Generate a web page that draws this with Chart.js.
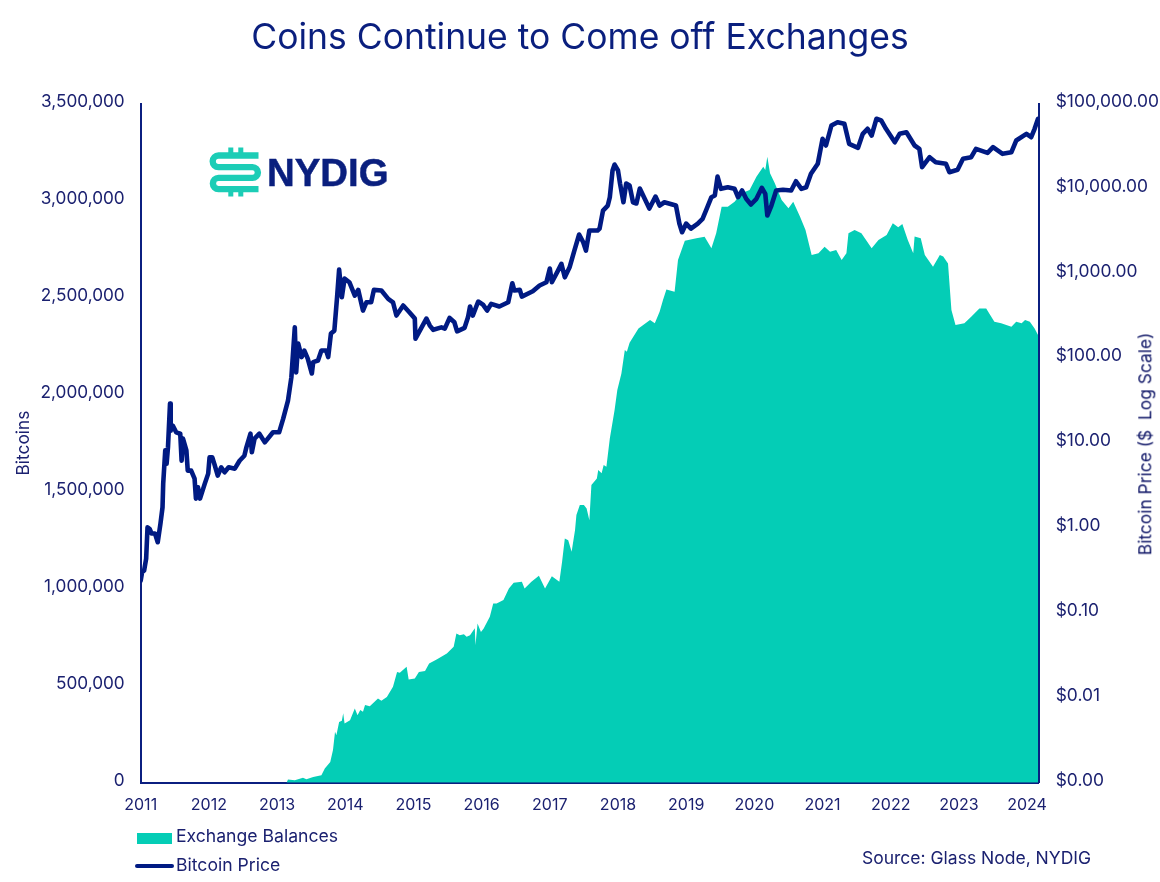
<!DOCTYPE html>
<html><head><meta charset="utf-8">
<script src="https://cdn.jsdelivr.net/npm/chart.js@4"></script>
<style>
html,body{margin:0;padding:0;background:#fff;width:1160px;height:882px;overflow:hidden}
#wrap{position:relative;width:1160px;height:882px;font-family:Inter,sans-serif;color:#1b2170}
canvas{position:absolute;left:0;top:0}
.t{position:absolute;white-space:nowrap;line-height:1}
</style></head><body>
<div id="wrap">
<canvas id="c" width="1160" height="882"></canvas>
<svg style="position:absolute;left:0;top:0" width="400" height="220" fill="none">
  <path d="M258.5 155.5H218.5a5.8 5.8 0 0 0 0 11.6H252.5a5.4 5.4 0 0 1 0 10.8H218.5a5.6 5.6 0 0 0 0 11.2H258.5" stroke="#1ccdb6" stroke-width="6.4"/>
  <path d="M228.3 147.5h5v6h-5zM238.3 147.5h5v6h-5zM228.3 191.5h5v5h-5zM238.3 191.5h5v5h-5z" fill="#1ccdb6"/>
</svg>
<div class="t" style="left:267px;top:153.5px;font-size:38.4px;font-weight:700;color:#0a1f7e;font-family:'Liberation Sans',Arial,sans-serif;-webkit-text-stroke:.5px #0a1f7e">NYDIG</div>
<div class="t" style="left:137px;top:832.5px;width:35px;height:11px;background:#04cdb6"></div>
<div class="t" style="left:135px;top:864px;width:39px;height:4px;border-radius:2px;background:#001a83"></div>
<div class="t" style="left:176px;top:827px;font-size:17.6px">Exchange Balances</div>
<div class="t" style="left:176px;top:856px;font-size:17.6px">Bitcoin Price</div>
<div class="t" style="left:862px;top:849px;font-size:17.5px">Source: Glass Node, NYDIG</div>
<div class="t" style="left:1145px;top:444px;font-size:17.4px;color:#111868;transform:translate(-50%,-50%) rotate(-90deg)">Bitcoin Price ($&nbsp; Log Scale)</div>
</div>
<script>
const yearTicks = [2011,2012,2013,2014,2015,2016,2017,2018,2019,2020,2021,2022,2023,2024];
const balanceTicks = [0,500000,1000000,1500000,2000000,2500000,3000000,3500000];
const priceTicks = [0.001,0.01,0.1,1,10,100,1000,10000,100000];

const priceYears = [2011.00,2011.02,2011.05,2011.08,2011.10,2011.13,2011.16,2011.21,2011.25,2011.29,2011.32,2011.33,2011.36,2011.38,2011.40,2011.43,2011.44,2011.47,2011.52,2011.58,2011.60,2011.62,2011.67,2011.69,2011.74,2011.79,2011.81,2011.84,2011.87,2011.94,2011.99,
2012.01,2012.05,2012.08,2012.13,2012.18,2012.23,2012.29,2012.38,2012.45,2012.52,2012.55,2012.61,2012.63,2012.67,2012.74,2012.82,2012.94,
2013.03,2013.09,2013.16,2013.21,2013.26,2013.28,2013.31,2013.36,2013.40,2013.45,2013.51,2013.53,2013.60,2013.65,2013.72,2013.75,2013.79,2013.84,2013.88,2013.91,2013.95,2013.99,
2014.06,2014.14,2014.19,2014.26,2014.31,2014.38,2014.42,2014.53,2014.63,2014.70,2014.75,2014.85,2014.94,
2015.02,2015.03,2015.12,2015.19,2015.24,2015.29,2015.41,2015.46,2015.53,2015.60,2015.64,2015.75,2015.80,2015.83,2015.87,2015.95,
2016.02,2016.08,2016.14,2016.26,2016.39,2016.45,2016.48,2016.56,2016.59,2016.75,2016.85,2016.95,
2017.00,2017.03,2017.12,2017.17,2017.22,2017.29,2017.36,2017.43,2017.49,2017.53,2017.58,2017.70,2017.73,2017.78,2017.85,2017.88,2017.92,2017.95,
2018.00,2018.03,2018.08,2018.12,2018.17,2018.22,2018.27,2018.32,2018.39,2018.46,2018.55,2018.61,2018.68,2018.85,2018.90,2018.94,
2019.00,2019.07,2019.17,2019.24,2019.29,2019.37,2019.42,2019.46,2019.51,2019.61,2019.71,2019.76,2019.82,2019.88,2019.95,
2020.03,2020.11,2020.16,2020.19,2020.25,2020.32,2020.42,2020.54,2020.61,2020.69,2020.76,2020.83,2020.93,
2021.00,2021.05,2021.13,2021.22,2021.32,2021.39,2021.52,2021.59,2021.66,2021.72,2021.79,2021.86,2021.93,
2022.06,2022.13,2022.23,2022.35,2022.42,2022.46,2022.57,2022.66,2022.81,2022.86,2022.98,
2023.06,2023.18,2023.25,2023.42,2023.50,2023.64,2023.77,2023.84,2023.99,
2024.06,2024.11,2024.16];
const priceValues = [0.24,0.30,0.315,0.435,1.02,0.98,0.86,0.86,0.68,1.13,1.75,3.33,8.2,5.7,8.9,29.2,14.0,16.1,13.4,12.9,6.2,11.3,8.2,4.74,4.74,3.82,2.22,3.01,2.22,3.33,4.37,
6.8,6.8,5.7,4.14,5.19,4.53,5.19,5.0,6.2,7.1,8.9,12.9,7.8,11.3,12.9,10.2,13.4,
13.4,19.4,31.7,59.6,231,68,149,103,123,99,66,90,94,123,123,103,195,211,522,1107,522,867,
785,547,638,364,456,456,638,627,500,456,318,417,348,
293,170,231,293,242,216,231,223,299,265,207,228,303,406,318,465,
428,364,437,406,456,764,627,638,532,614,718,785,
1138,785,1076,1291,897,1178,1854,2864,2323,1854,3192,3192,3365,5483,6281,7870,16250,19100,
16250,11400,6870,11400,10800,6870,6640,9970,7600,5790,8020,6281,6870,6281,3855,3048,
3855,3365,3855,4385,5483,7870,8240,13800,9885,10320,9885,7870,9440,7535,6460,
7535,10160,8630,4790,6281,9440,9620,9440,12150,9885,10320,14850,19500,
38370,32000,55080,60230,57660,33500,30060,43950,50350,41980,66070,63100,50350,
35000,43950,45900,32000,29250,17750,23300,20340,19500,15520,16560,
22300,23300,29250,26240,30550,25530,26670,36650,43950,
40080,50350,66070];

const balanceYears = [2011.00,2013.13,2013.14,2013.16,2013.26,2013.38,2013.43,2013.53,2013.65,2013.70,2013.78,2013.82,2013.85,2013.87,2013.91,2013.95,2013.97,2013.99,
2014.07,2014.14,2014.18,2014.22,2014.26,2014.29,2014.36,2014.48,2014.53,2014.61,2014.70,2014.76,2014.80,2014.90,2014.93,
2015.02,2015.08,2015.17,2015.23,2015.34,2015.49,2015.59,2015.63,2015.68,2015.74,2015.78,2015.83,2015.90,2015.91,2015.94,2015.99,
2016.03,2016.12,2016.17,2016.22,2016.32,2016.40,2016.47,2016.59,2016.63,2016.73,2016.84,2016.93,
2017.03,2017.14,2017.18,2017.22,2017.27,2017.32,2017.37,2017.39,2017.44,2017.50,2017.54,2017.58,2017.61,2017.69,2017.71,2017.76,2017.79,2017.83,2017.88,2017.95,2017.99,
2018.05,2018.10,2018.13,2018.17,2018.30,2018.37,2018.47,2018.54,2018.61,2018.66,2018.71,2018.83,2018.88,2018.98,
2019.15,2019.27,2019.37,2019.44,2019.52,2019.61,2019.71,2019.81,2019.93,
2020.03,2020.13,2020.16,2020.19,2020.23,2020.30,2020.40,2020.50,2020.57,2020.67,2020.75,2020.84,2020.94,
2021.03,2021.11,2021.20,2021.28,2021.35,2021.38,2021.47,2021.57,2021.62,2021.72,2021.82,2021.94,
2022.03,2022.11,2022.17,2022.25,2022.33,2022.35,2022.44,2022.50,2022.62,2022.72,2022.77,2022.84,2022.89,2022.95,
2023.08,2023.18,2023.30,2023.40,2023.52,2023.62,2023.77,2023.84,2023.92,2023.97,
2024.04,2024.11,2024.16];
const balanceValues = [0,0,0,16000,13000,25000,18000,30000,39000,73000,107000,168000,262000,245000,313000,319000,358000,305000,
322000,382000,348000,374000,365000,400000,394000,434000,422000,442000,494000,571000,566000,597000,532000,
537000,571000,576000,614000,635000,666000,700000,769000,760000,765000,752000,760000,796000,709000,821000,777000,
795000,855000,924000,924000,941000,1001000,1030000,1035000,1001000,1035000,1066000,1001000,
1064000,1035000,1138000,1259000,1250000,1190000,1302000,1379000,1431000,1431000,1413000,1353000,1534000,1568000,1611000,1594000,1637000,1628000,1774000,1920000,2023000,
2109000,2230000,2221000,2267000,2341000,2358000,2384000,2367000,2427000,2487000,2542000,2530000,2693000,2793000,
2805000,2813000,2754000,2831000,2968000,2968000,2994000,3037000,3054000,
3123000,3174000,3157000,3226000,3140000,3089000,3003000,2960000,2994000,2917000,2848000,2719000,2728000,
2762000,2736000,2745000,2693000,2728000,2831000,2848000,2831000,2805000,2754000,2796000,2822000,
2883000,2862000,2879000,2796000,2728000,2814000,2805000,2719000,2659000,2719000,2711000,2676000,2436000,2358000,
2367000,2401000,2444000,2444000,2375000,2367000,2350000,2375000,2367000,2384000,
2375000,2341000,2307000];

const textColor = '#1b2170', axisColor = '#0b1f80';
new Chart(document.getElementById('c'), {
  type:'line',
  data:{datasets:[
    {label:'Bitcoin Price', yAxisID:'price', order:0,
     data:priceYears.map((x,i)=>({x,y:priceValues[i]})),
     borderColor:'#001a83', borderWidth:4.6, borderJoinStyle:'round', borderCapStyle:'round', pointRadius:0, tension:0, fill:false},
    {label:'Exchange Balances', yAxisID:'balance', order:1,
     data:balanceYears.map((x,i)=>({x,y:balanceValues[i]})),
     borderWidth:0, borderColor:'#04cdb6', backgroundColor:'#04cdb6', pointRadius:0, tension:0, fill:'origin'}
  ]},
  options:{
    responsive:false, animation:false, devicePixelRatio:1,
    layout:{padding:0},
    plugins:{
      legend:{display:false}, tooltip:{enabled:false},
      title:{display:true,text:'Coins Continue to Come off Exchanges',color:'#0a1f7e',
        font:{family:'Inter',size:35.5,weight:'400',lineHeight:1.2},padding:{top:17,bottom:43.9}}
    },
    scales:{
      x:{type:'linear',min:2011,max:2024.17,
        grid:{display:false,drawTicks:false},
        border:{color:axisColor,width:2},
        ticks:{color:textColor,font:{family:'Inter',size:16},padding:13,maxRotation:0,autoSkip:false,callback:v=>String(v)},
        afterBuildTicks:s=>{s.ticks=yearTicks.map(value=>({value}))},
        afterFit:s=>{s.height=99.3}},
      balance:{type:'linear',position:'left',min:0,max:3500000,
        grid:{display:false,drawTicks:false},
        border:{color:axisColor,width:2},
        ticks:{color:textColor,font:{family:'Inter',size:17.2},padding:16,labelOffset:-2,callback:v=>v.toLocaleString('en-US')},
        afterBuildTicks:s=>{s.ticks=balanceTicks.map(value=>({value}))},
        title:{display:true,text:'Bitcoins',color:textColor,font:{family:'Inter',size:17.3},padding:{top:13,bottom:0}},
        afterFit:s=>{s.width=140.7}},
      price:{type:'logarithmic',position:'right',min:0.001,max:100000,
        grid:{display:false,drawTicks:false},
        border:{color:axisColor,width:2},
        ticks:{color:textColor,font:{family:'Inter',size:17.4},padding:17,labelOffset:-2,autoSkip:false,
          callback:v=>'$'+Number(v).toLocaleString('en-US',{minimumFractionDigits:2,maximumFractionDigits:2})},
        afterBuildTicks:s=>{s.ticks=priceTicks.map(value=>({value}))},
        afterFit:s=>{s.width=121.3}}
    }
  }
});
</script>
</body></html>
